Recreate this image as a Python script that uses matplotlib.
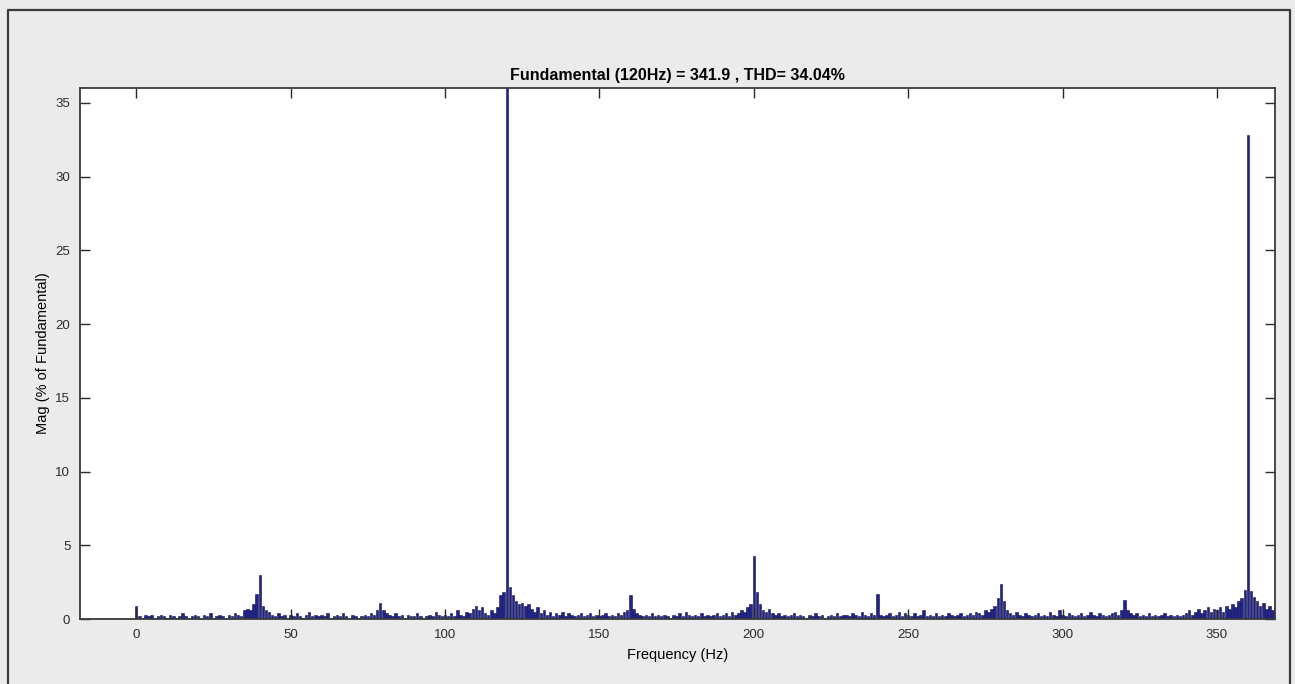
import matplotlib
matplotlib.use("Agg")
import matplotlib.pyplot as plt
from matplotlib.lines import Line2D

plt.rcParams['font.family'] = ['Liberation Sans', 'DejaVu Sans']

# Frequency bins (Hz) and magnitudes (% of fundamental)
freq_start = 0
magnitudes = [
    0.9, 0.2, 0.1, 0.3, 0.2, 0.3, 0.1, 0.2, 0.3, 0.2,      # 0-9
    0.1, 0.3, 0.2, 0.1, 0.2, 0.4, 0.2, 0.1, 0.2, 0.3,      # 10-19
    0.2, 0.1, 0.3, 0.2, 0.4, 0.1, 0.2, 0.3, 0.2, 0.1,      # 20-29
    0.3, 0.2, 0.4, 0.3, 0.2, 0.6, 0.7, 0.6, 1.0, 1.7,      # 30-39
    3.0, 0.9, 0.6, 0.5, 0.3, 0.2, 0.4, 0.2, 0.3, 0.1,      # 40-49
    0.3, 0.2, 0.4, 0.2, 0.1, 0.3, 0.5, 0.2, 0.3, 0.2,      # 50-59
    0.3, 0.2, 0.4, 0.1, 0.2, 0.3, 0.2, 0.4, 0.2, 0.1,      # 60-69
    0.3, 0.2, 0.1, 0.2, 0.3, 0.2, 0.4, 0.3, 0.6, 1.1,      # 70-79
    0.6, 0.4, 0.3, 0.2, 0.4, 0.2, 0.3, 0.1, 0.3, 0.2,      # 80-89
    0.2, 0.4, 0.2, 0.1, 0.2, 0.3, 0.2, 0.5, 0.3, 0.2,      # 90-99
    0.3, 0.2, 0.4, 0.2, 0.6, 0.3, 0.2, 0.5, 0.4, 0.7,      # 100-109
    0.9, 0.6, 0.8, 0.4, 0.3, 0.6, 0.4, 0.8, 1.6, 1.8,      # 110-119
    100.0, 2.2, 1.6, 1.2, 1.0, 1.1, 0.9, 1.0, 0.7, 0.5,    # 120-129
    0.8, 0.4, 0.6, 0.3, 0.5, 0.2, 0.4, 0.3, 0.5, 0.2,      # 130-139
    0.4, 0.3, 0.2, 0.3, 0.4, 0.2, 0.3, 0.4, 0.2, 0.3,      # 140-149
    0.2, 0.3, 0.4, 0.2, 0.3, 0.2, 0.4, 0.3, 0.5, 0.6,      # 150-159
    1.6, 0.7, 0.4, 0.3, 0.2, 0.3, 0.2, 0.4, 0.2, 0.3,      # 160-169
    0.2, 0.3, 0.2, 0.1, 0.3, 0.2, 0.4, 0.2, 0.5, 0.3,      # 170-179
    0.2, 0.3, 0.2, 0.4, 0.2, 0.3, 0.2, 0.3, 0.4, 0.2,      # 180-189
    0.3, 0.4, 0.2, 0.5, 0.3, 0.4, 0.6, 0.5, 0.8, 1.0,      # 190-199
    4.3, 1.8, 1.0, 0.6, 0.5, 0.7, 0.4, 0.3, 0.4, 0.2,      # 200-209
    0.3, 0.2, 0.3, 0.4, 0.2, 0.3, 0.2, 0.1, 0.3, 0.2,      # 210-219
    0.4, 0.2, 0.3, 0.1, 0.2, 0.3, 0.2, 0.4, 0.2, 0.3,      # 220-229
    0.3, 0.2, 0.4, 0.3, 0.2, 0.5, 0.3, 0.2, 0.4, 0.3,      # 230-239
    1.7, 0.3, 0.2, 0.3, 0.4, 0.2, 0.3, 0.5, 0.2, 0.4,      # 240-249
    0.3, 0.2, 0.4, 0.2, 0.3, 0.6, 0.2, 0.3, 0.2, 0.4,      # 250-259
    0.2, 0.3, 0.2, 0.4, 0.3, 0.2, 0.3, 0.4, 0.2, 0.3,      # 260-269
    0.4, 0.3, 0.5, 0.4, 0.3, 0.6, 0.5, 0.7, 0.9, 1.4,      # 270-279
    2.4, 1.2, 0.6, 0.4, 0.3, 0.5, 0.3, 0.2, 0.4, 0.3,      # 280-289
    0.2, 0.3, 0.4, 0.2, 0.3, 0.2, 0.5, 0.3, 0.2, 0.6,      # 290-299
    0.3, 0.2, 0.4, 0.3, 0.2, 0.3, 0.4, 0.2, 0.3, 0.5,      # 300-309
    0.3, 0.2, 0.4, 0.3, 0.2, 0.3, 0.4, 0.5, 0.3, 0.6,      # 310-319
    1.3, 0.6, 0.4, 0.3, 0.4, 0.2, 0.3, 0.2, 0.4, 0.2,      # 320-329
    0.3, 0.2, 0.3, 0.4, 0.2, 0.3, 0.2, 0.3, 0.2, 0.3,      # 330-339
    0.4, 0.6, 0.3, 0.5, 0.7, 0.4, 0.6, 0.8, 0.5, 0.7,      # 340-349
    0.6, 0.8, 0.5, 0.9, 0.7, 1.0, 0.8, 1.2, 1.4, 2.0,      # 350-359
    32.8, 1.9, 1.5, 1.2, 0.9, 1.1, 0.7, 0.9, 0.6, 0.8,     # 360-369
    0.8,                                                   # 370
]
frequencies = list(range(freq_start, freq_start + len(magnitudes)))

x_ticks = [0, 50, 100, 150, 200, 250, 300, 350]
y_ticks = [0, 5, 10, 15, 20, 25, 30, 35]
title_text = "Fundamental (120Hz) = 341.9 , THD= 34.04%"
x_label = "Frequency (Hz)"
y_label = "Mag (% of Fundamental)"

fig = plt.figure(figsize=(12.95, 6.84), dpi=100, facecolor='#ebebeb')
# outer frame (top, left, right edges of the window)
frame_kw = dict(transform=fig.transFigure, color='#3a3a3a', linewidth=1.6)
fig.lines.append(Line2D([0.006, 0.006, 0.996, 0.996], [0.0, 0.985, 0.985, 0.0], **frame_kw))

ax = fig.add_axes([0.0618, 0.095, 0.9228, 0.7763])
ax.set_facecolor('white')
ax.bar(frequencies, magnitudes, width=0.8, color='#23238c', edgecolor='#10104a',
       linewidth=0.4)

ax.set_xlim(-18.2, 368.8)
ax.set_ylim(0, 36)
ax.set_xticks(x_ticks)
ax.set_yticks(y_ticks)
ax.tick_params(direction='in', length=7, width=1, top=True, right=True,
               labelsize=9.5, colors='#2a2a2a', pad=7)
for s in ax.spines.values():
    s.set_color('#3a3a3a')
    s.set_linewidth(1.3)

ax.set_title(title_text, fontsize=11.5, fontweight='bold', pad=6)
ax.set_xlabel(x_label, fontsize=10.5, labelpad=5)
ax.set_ylabel(y_label, fontsize=10.5, labelpad=4)

fig.savefig("out.png", dpi=100, facecolor=fig.get_facecolor())
